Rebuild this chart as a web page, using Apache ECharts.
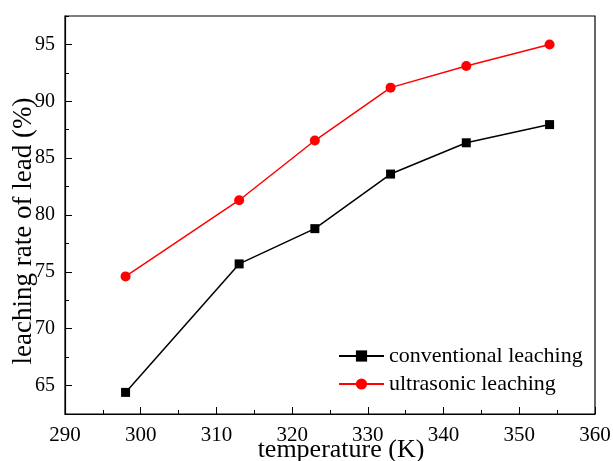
<!DOCTYPE html>
<html>
<head>
<meta charset="utf-8">
<script src="https://cdn.jsdelivr.net/npm/echarts@6/dist/echarts.min.js"></script>
<style>html,body{margin:0;padding:0;background:#fff;}#c{width:613px;height:461px;}</style>
</head>
<body>
<div id="c"></div>
<script>
const temperature = [298, 313, 323, 333, 343, 354];
const conventional = [64.4, 75.7, 78.8, 83.6, 86.35, 87.95];
const ultrasonic = [74.6, 81.3, 86.55, 91.2, 93.1, 95.0];
const yMajorTicks = [65, 70, 75, 80, 85, 90, 95];
const yMinorTicks = [62.5, 67.5, 72.5, 77.5, 82.5, 87.5, 92.5, 97.5];

const FONT = '"Liberation Serif", "Times New Roman", serif';
const chart = echarts.init(document.getElementById('c'));
chart.setOption({
  backgroundColor: '#fff',
  animation: false,
  grid: { left: 65, right: 18, top: 16, bottom: 47, show: true, borderColor: '#000', borderWidth: 1.2, backgroundColor: 'transparent', containLabel: false, outerBoundsMode: 'none' },
  legend: {
    orient: 'vertical', left: 338, top: 345, padding: 0,
    itemWidth: 45, itemHeight: 14, itemGap: 6,
    textStyle: { fontFamily: FONT, fontSize: 22, color: '#000' },
    data: ['conventional leaching', 'ultrasonic leaching']
  },
  xAxis: {
    type: 'value', min: 290, max: 360, interval: 10,
    name: 'temperature (K)', nameLocation: 'middle', nameGap: 23, nameMoveOverlap: false,
    nameTextStyle: { fontFamily: FONT, fontSize: 26, color: '#000', padding: [0, 0, 0, 22] },
    axisLine: { show: true, lineStyle: { color: '#000', width: 1.2 } },
    axisTick: { show: true, inside: true, length: 7, lineStyle: { color: '#000' } },
    minorTick: { show: true, splitNumber: 2, length: 4, lineStyle: { color: '#000' } },
    axisLabel: { fontFamily: FONT, fontSize: 21, color: '#000', margin: 11 },
    splitLine: { show: false }
  },
  yAxis: [{
    type: 'value', min: 62.5, max: 97.5, position: 'left',
    name: 'leaching rate of lead (%)', nameLocation: 'middle', nameGap: 28, nameMoveOverlap: false,
    nameTextStyle: { fontFamily: FONT, fontSize: 27, color: '#000', padding: [0, 32, 0, 0] },
    axisLine: { show: true, lineStyle: { color: '#000', width: 1.2 } },
    axisTick: { show: true, inside: true, length: 7, customValues: yMajorTicks, lineStyle: { color: '#000' } },
    axisLabel: { fontFamily: FONT, fontSize: 20, color: '#000', margin: 10, customValues: yMajorTicks },
    splitLine: { show: false }
  }, {
    type: 'value', min: 62.5, max: 97.5, position: 'left', offset: 0,
    axisLine: { show: false },
    axisTick: { show: true, inside: true, length: 4, customValues: yMinorTicks, lineStyle: { color: '#000' } },
    axisLabel: { show: false },
    splitLine: { show: false }
  }],
  series: [{
    name: 'conventional leaching', type: 'line',
    data: temperature.map((t, i) => [t, conventional[i]]),
    symbol: 'rect', symbolSize: 9,
    lineStyle: { color: '#000', width: 1.5 },
    itemStyle: { color: '#000' }
  }, {
    name: 'ultrasonic leaching', type: 'line',
    data: temperature.map((t, i) => [t, ultrasonic[i]]),
    symbol: 'circle', symbolSize: 10,
    lineStyle: { color: '#ff0000', width: 1.5 },
    itemStyle: { color: '#ff0000' }
  }]
});
</script>
</body>
</html>
